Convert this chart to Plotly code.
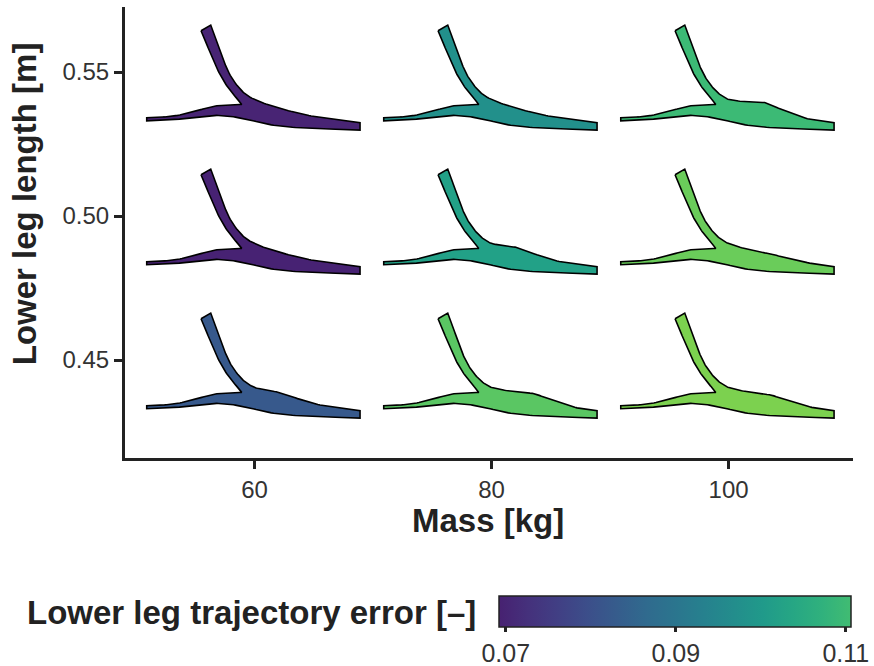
import numpy as np
import plotly.graph_objects as go
from plotly.colors import sample_colorscale

# ---- data -------------------------------------------------------------
mass_kg = [60, 60, 60, 80, 80, 80, 100, 100, 100]
leg_length_m = [0.55, 0.50, 0.45, 0.55, 0.50, 0.45, 0.55, 0.50, 0.45]
trajectory_error = [0.0699, 0.0695, 0.0823, 0.0975, 0.1023, 0.1140, 0.1099, 0.1161, 0.1182]
# shoulder on the shank band of each glyph (height, position in glyph px)
shoulder_height = [0, 0, 4, 0, 5, 7.5, 9, 3, 6]
shoulder_pos = [30, 30, 25, 30, 25, 43, 37, 45, 43]

x_ticks = [60, 80, 100]
y_ticks = [0.45, 0.50, 0.55]
y_ticklabels = ["0.45", "0.50", "0.55"]
cbar_ticks = [0.07, 0.09, 0.11]
cbar_ticklabels = ["0.07", "0.09", "0.11"]

# ---- styling ----------------------------------------------------------
FONT = "Liberation Sans, Arial, sans-serif"
AXIS_COLOR = "#222222"
TICK_COLOR = "#333333"
CMIN, CMAX = 0.0692, 0.1106
VIR_LO, VIR_HI = 0.09, 0.69          # part of viridis used by the fill scale
KG_PER_PX = 20 / 237                 # glyph size in data units per glyph px
M_PER_PX = 0.05 / 144

# plot area in pixels (fixed margins)
PLOT_TOP, PLOT_BOTTOM = 7, 458
PLOT_H = PLOT_BOTTOM - PLOT_TOP


def paper_y(px):
    return (PLOT_BOTTOM - px) / PLOT_H


# glyph outline in glyph px (x right, y down) around its anchor
LEFT_STEM = [(-53.5, -41.3), (-50.6, -35.0), (-47.3, -26.5), (-43.6, -17.5),
             (-39.6, -8.0), (-35.0, 1.5), (-29.5, 11.0), (-23.0, 20.0),
             (-17.5, 26.5), (-12.8, 31.3)]
TAIL_TOP = [(-12.8, 32.3), (-31.2, 33.0), (-42.8, 34.7), (-52.8, 37.3),
            (-64.5, 40.7), (-81.2, 44.0), (-97.8, 45.3), (-107.8, 45.7)]
BOTTOM = [(-107.8, 48.7), (-87.8, 48.0), (-67.8, 46.3), (-51.2, 44.0),
          (-37.8, 43.3), (-21.2, 44.7), (-4.5, 48.0), (12.2, 52.0),
          (32.2, 54.7), (58.8, 56.3), (105.5, 58.0)]
# right edge: from the right tip of the band back up to the top of the stem
RIGHT_EDGE = [(105.5, 50.7), (78.8, 47.3), (52.2, 43.0), (25.5, 36.3),
              (5.5, 29.7), (-7.8, 23.0), (-17.8, 13.0), (-26.2, -0.3),
              (-32.8, -17.0), (-39.5, -35.3), (-43.8, -47.0)]


def smooth(points, n=8):
    """Catmull-Rom curve through the given points."""
    p = np.asarray(points, dtype=float)
    if len(p) < 3:
        return p
    ext = np.vstack([2 * p[0] - p[1], p, 2 * p[-1] - p[-2]])
    out = []
    t = np.linspace(0, 1, n, endpoint=False)[:, None]
    for i in range(1, len(ext) - 2):
        p0, p1, p2, p3 = ext[i - 1], ext[i], ext[i + 1], ext[i + 2]
        seg = 0.5 * ((2 * p1) + (-p0 + p2) * t
                     + (2 * p0 - 5 * p1 + 4 * p2 - p3) * t ** 2
                     + (-p0 + 3 * p1 - 3 * p2 + p3) * t ** 3)
        out.append(seg)
    out.append(p[-1:])
    return np.vstack(out)


def glyph_outline(height, pos):
    right = smooth(RIGHT_EDGE, 12).copy()
    if height > 0:
        xs = right[:, 0]
        rise = np.clip(xs / pos, 0, 1)
        fall = np.clip((pos + 45 - xs) / 45, 0, 1)
        right[:, 1] -= height * np.minimum(rise, fall)
    parts = [smooth(LEFT_STEM), smooth(TAIL_TOP), smooth(BOTTOM), right]
    return np.vstack(parts + [np.array(LEFT_STEM[:1], dtype=float)])


def fill_color(v):
    t = VIR_LO + (v - CMIN) / (CMAX - CMIN) * (VIR_HI - VIR_LO)
    return sample_colorscale("Viridis", [float(np.clip(t, 0, 1))])[0]


fig = go.Figure()

for m, L, err, h, p in zip(mass_kg, leg_length_m, trajectory_error,
                           shoulder_height, shoulder_pos):
    g = glyph_outline(h, p)
    fig.add_trace(go.Scatter(
        x=m + g[:, 0] * KG_PER_PX,
        y=L - g[:, 1] * M_PER_PX,
        mode="lines", fill="toself",
        fillcolor=fill_color(err),
        line=dict(color="black", width=1.6),
        hoverinfo="skip", showlegend=False,
    ))

# colour bar for the error scale
cb_scale = [[i / 12, c] for i, c in enumerate(
    sample_colorscale("Viridis", list(np.linspace(VIR_LO, VIR_HI, 13))))]
fig.add_trace(go.Scatter(
    x=[mass_kg[0], mass_kg[0]], y=[leg_length_m[0], leg_length_m[0]],
    mode="markers",
    marker=dict(size=1, opacity=0, color=[CMIN, CMAX], cmin=CMIN, cmax=CMAX,
                colorscale=cb_scale, showscale=True,
                colorbar=dict(
                    orientation="h", x=0.5137, xanchor="left",
                    y=paper_y(596), yanchor="top", len=352, lenmode="pixels",
                    thickness=31, xpad=0, ypad=0,
                    outlinewidth=1.5, outlinecolor=AXIS_COLOR,
                    tickvals=cbar_ticks, ticktext=cbar_ticklabels,
                    ticks="outside", ticklen=5, tickwidth=3,
                    tickcolor=AXIS_COLOR,
                    tickfont=dict(family=FONT, size=25, color=TICK_COLOR),
                )),
    hoverinfo="skip", showlegend=False,
))

axis_common = dict(
    showgrid=False, zeroline=False, showline=True,
    linecolor=AXIS_COLOR, linewidth=3,
    ticks="outside", ticklen=8, tickwidth=3, tickcolor=AXIS_COLOR,
    tickfont=dict(family=FONT, size=24, color=TICK_COLOR),
)

fig.update_layout(
    width=874, height=666,
    margin=dict(l=125, r=21, t=PLOT_TOP, b=666 - PLOT_BOTTOM,
                autoexpand=False),
    plot_bgcolor="white", paper_bgcolor="white",
    showlegend=False,
    xaxis=dict(range=[49.07, 110.5], tickvals=x_ticks, **axis_common),
    yaxis=dict(range=[0.416, 0.5726], tickvals=y_ticks,
               ticktext=y_ticklabels, **axis_common),
    annotations=[
        dict(text="<b>Mass [kg]</b>", xref="paper", yref="paper",
             x=0.4986, y=paper_y(520), xanchor="center", yanchor="middle",
             showarrow=False,
             font=dict(family=FONT, size=33, color=AXIS_COLOR)),
        dict(text="<b>Lower leg length [m]</b>", xref="paper", yref="paper",
             x=-0.137, y=paper_y(204), xanchor="center", yanchor="middle",
             textangle=-90, showarrow=False,
             font=dict(family=FONT, size=33, color=AXIS_COLOR)),
        dict(text="<b>Lower leg trajectory error [–]</b>", xref="paper",
             yref="paper", x=-0.137, y=paper_y(612), xanchor="left",
             yanchor="middle", showarrow=False,
             font=dict(family=FONT, size=33, color=AXIS_COLOR)),
    ],
)

fig.write_html("out.html")
